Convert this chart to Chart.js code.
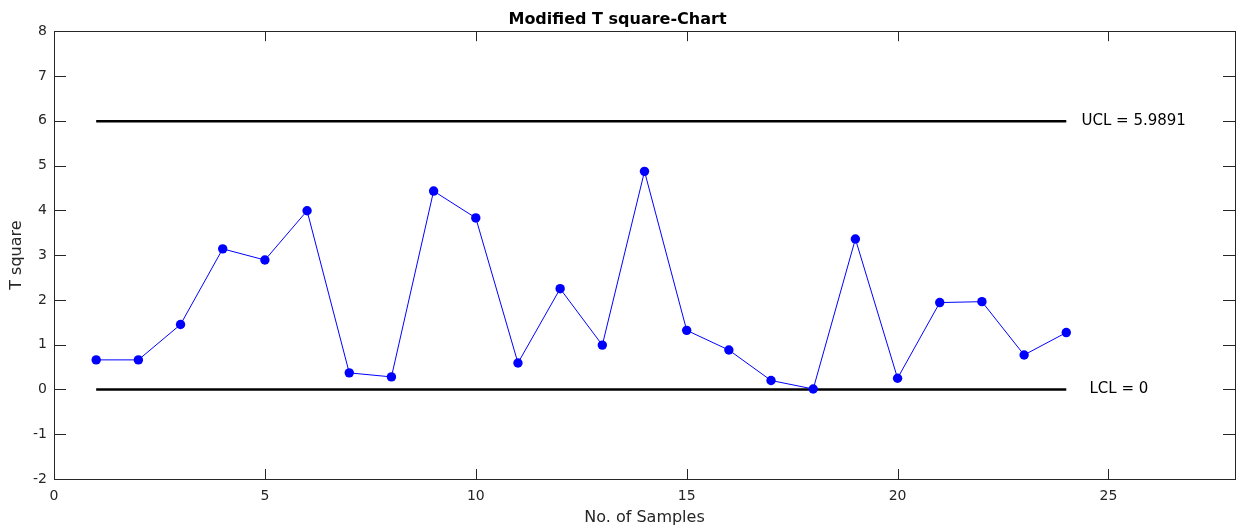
<!DOCTYPE html>
<html>
<head>
<meta charset="utf-8">
<title>Modified T square-Chart</title>
<script src="https://cdn.jsdelivr.net/npm/chart.js@4/dist/chart.umd.min.js"></script>
<style>
    html, body { margin: 0; padding: 0; background: #ffffff; }
    #wrap { width: 1242px; height: 526px; }
</style>
</head>
<body>
<div id="wrap"><canvas id="tChart" width="1242" height="526"></canvas></div>
<script>
// =====================================
// Data
// =====================================
const sampleNo = [1, 2, 3, 4, 5, 6, 7, 8, 9, 10, 11, 12, 13, 14, 15, 16, 17, 18, 19, 20, 21, 22, 23, 24];
const tSquare = [0.66, 0.66, 1.45, 3.14, 2.89, 3.99, 0.37, 0.28, 4.43, 3.83, 0.59, 2.25, 0.99, 4.87,
                 1.32, 0.88, 0.20, 0.01, 3.36, 0.25, 1.94, 1.96, 0.77, 1.27];

// Control limits (drawn from first to last sample)
const limitNames = ["UCL = 5.9891", "LCL = 0"];
const limitValues = [5.9891, 0];
const limitLabelX = [24.36, 24.55];

// Axis ranges / ticks
const xRange = [0, 28];
const xStep = 5;
const yRange = [-2, 8];
const yStep = 1;

const FONT = "'DejaVu Sans', 'Liberation Sans', Arial, sans-serif";
const AXIS_COLOR = "#262626";

// =====================================
// Plugins: MATLAB style box with inward ticks, limit labels
// =====================================
const boxPlugin = {
    id: "matlabBox",
    afterDatasetsDraw(chart) {
        const { ctx, chartArea: a, scales } = chart;
        ctx.save();
        ctx.strokeStyle = AXIS_COLOR;
        ctx.lineWidth = 1;
        ctx.strokeRect(Math.round(a.left) + 0.5, Math.round(a.top) + 0.5,
                       Math.round(a.right - a.left), Math.round(a.bottom - a.top));

        ctx.beginPath();
        scales.x.ticks.forEach(t => {
            const px = Math.round(scales.x.getPixelForValue(t.value)) + 0.5;
            ctx.moveTo(px, a.bottom); ctx.lineTo(px, a.bottom - 10);
            ctx.moveTo(px, a.top); ctx.lineTo(px, a.top + 10);
        });
        scales.y.ticks.forEach(t => {
            const py = Math.round(scales.y.getPixelForValue(t.value)) + 0.5;
            ctx.moveTo(a.left, py); ctx.lineTo(a.left + 12, py);
            ctx.moveTo(a.right, py); ctx.lineTo(a.right - 12, py);
        });
        ctx.stroke();
        ctx.restore();
    }
};

const limitLabelPlugin = {
    id: "limitLabels",
    afterDatasetsDraw(chart) {
        const { ctx, scales } = chart;
        ctx.save();
        ctx.fillStyle = "#000000";
        ctx.font = "15px " + FONT;
        ctx.textAlign = "left";
        ctx.textBaseline = "middle";
        limitNames.forEach((name, i) => {
            ctx.fillText(name, scales.x.getPixelForValue(limitLabelX[i]),
                         scales.y.getPixelForValue(limitValues[i]));
        });
        ctx.restore();
    }
};

// =====================================
// Chart
// =====================================
const firstX = sampleNo[0];
const lastX = sampleNo[sampleNo.length - 1];

const ctx = document.getElementById("tChart").getContext("2d");
new Chart(ctx, {
    type: "line",
    data: {
        datasets: [
            {
                label: "T square",
                data: sampleNo.map((s, i) => ({ x: s, y: tSquare[i] })),
                borderColor: "#0000ff",
                backgroundColor: "#0000ff",
                borderWidth: 1,
                pointRadius: 4.7,
                pointHoverRadius: 4.7,
                pointBorderWidth: 0,
                tension: 0
            },
            ...limitValues.map((v, i) => ({
                label: limitNames[i],
                data: [{ x: firstX, y: v }, { x: lastX, y: v }],
                borderColor: "#000000",
                borderWidth: 2.6,
                pointRadius: 0,
                tension: 0
            }))
        ]
    },
    options: {
        responsive: false,
        animation: false,
        events: [],
        layout: { padding: { left: 0, right: 7, top: 0, bottom: 0 } },
        plugins: {
            legend: { display: false },
            tooltip: { enabled: false },
            title: {
                display: true,
                text: "Modified T square-Chart",
                color: "#000000",
                font: { family: FONT, size: 16, weight: "bold" },
                padding: { top: 10, bottom: 2 }
            }
        },
        scales: {
            x: {
                type: "linear",
                min: xRange[0],
                max: xRange[1],
                grid: { display: false, drawTicks: false },
                border: { display: false },
                ticks: {
                    stepSize: xStep,
                    includeBounds: false,
                    color: AXIS_COLOR,
                    font: { family: FONT, size: 14 },
                    padding: 9,
                    maxRotation: 0
                },
                title: {
                    display: true,
                    text: "No. of Samples",
                    color: AXIS_COLOR,
                    font: { family: FONT, size: 16 },
                    padding: { top: 0, bottom: -1 }
                },
                afterFit(scale) { scale.height = 47; }
            },
            y: {
                min: yRange[0],
                max: yRange[1],
                grid: { display: false, drawTicks: false },
                border: { display: false },
                ticks: {
                    stepSize: yStep,
                    color: AXIS_COLOR,
                    font: { family: FONT, size: 14 },
                    padding: 7
                },
                title: {
                    display: true,
                    text: "T square",
                    color: AXIS_COLOR,
                    font: { family: FONT, size: 16 },
                    padding: { top: 7, bottom: 0 }
                },
                afterFit(scale) { scale.width = 54; }
            }
        }
    },
    plugins: [boxPlugin, limitLabelPlugin]
});
</script>
</body>
</html>
